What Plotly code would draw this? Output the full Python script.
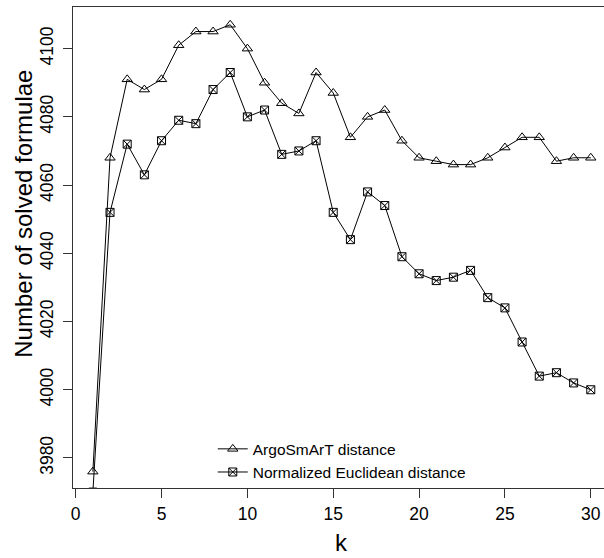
import plotly.graph_objects as go

k = list(range(1, 31))
argo = [3976, 4068, 4091, 4088, 4091, 4101, 4105, 4105, 4107, 4100,
        4090, 4084, 4081, 4093, 4087, 4074, 4080, 4082, 4073, 4068,
        4067, 4066, 4066, 4068, 4071, 4074, 4074, 4067, 4068, 4068]
euclid = [3970, 4052, 4072, 4063, 4073, 4079, 4078, 4088, 4093, 4080,
          4082, 4069, 4070, 4073, 4052, 4044, 4058, 4054, 4039, 4034,
          4032, 4033, 4035, 4027, 4024, 4014, 4004, 4005, 4002, 4000]
x_ticks = [0, 5, 10, 15, 20, 25, 30]
y_ticks = [3980, 4000, 4020, 4040, 4060, 4080, 4100]

FONT = "Liberation Sans, Arial, Helvetica, sans-serif"
W, H = 604, 558
L, T, R, B = 73.3, 6.7, 0, 69.7
PW, PH = W - L - R, H - T - B

fig = go.Figure()
fig.add_trace(go.Scatter(
    x=k, y=argo, mode="lines+markers", name="ArgoSmArT distance",
    line=dict(color="black", width=1),
    marker=dict(symbol="triangle-up-open", size=9, color="black",
                line=dict(width=1, color="black")),
))
fig.add_trace(go.Scatter(
    x=k, y=euclid, mode="lines+markers", name="Normalized Euclidean distance",
    line=dict(color="black", width=1),
    marker=dict(symbol="square-x-open", size=8, color="black",
                line=dict(width=1, color="black")),
))

axis_common = dict(
    showgrid=False, zeroline=False, showline=True, linecolor="#333",
    linewidth=1, ticks="outside", ticklen=9, tickwidth=1, tickcolor="#333",
    tickfont=dict(family=FONT, size=17.5, color="black"), automargin=False,
)
fig.update_xaxes(range=[-0.157, 30.77], tickvals=x_ticks, mirror=True,
                 ticklabelstandoff=1, **axis_common)
fig.update_yaxes(range=[3971.2, 4112.2], tickvals=y_ticks, tickangle=-90,
                 ticklabelstandoff=3, **axis_common)

fig.add_annotation(text="k", x=15.5, xref="x", y=(PH - (543 - T)) / PH,
                   yref="paper", showarrow=False, xanchor="center",
                   yanchor="middle", font=dict(family=FONT, size=24, color="black"))
fig.add_annotation(text="Number of solved formulae", textangle=-90,
                   x=(23 - L) / PW, xref="paper",
                   y=(PH - (214 - T)) / PH, yref="paper", showarrow=False,
                   xanchor="center", yanchor="middle",
                   font=dict(family=FONT, size=24, color="black"))

fig.update_layout(
    width=W, height=H,
    margin=dict(l=L, r=R, t=T, b=B, pad=0, autoexpand=False),
    paper_bgcolor="white", plot_bgcolor="white",
    showlegend=True,
    legend=dict(x=(213 - L) / PW, xanchor="left",
                y=(PH - (432.5 - T)) / PH, yanchor="top",
                bgcolor="rgba(0,0,0,0)", borderwidth=0,
                font=dict(family=FONT, size=15.5, color="black"),
                tracegroupgap=0),
)
fig.write_html("out.html", config={"displayModeBar": False},
               post_script="document.body.style.margin='0';document.body.style.overflow='hidden';")
